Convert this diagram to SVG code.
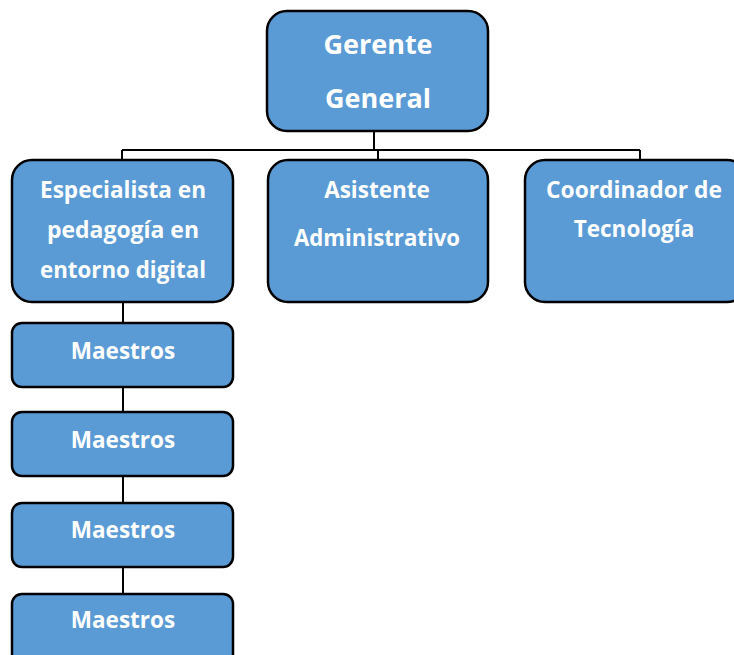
<svg xmlns="http://www.w3.org/2000/svg" width="734" height="655" viewBox="0 0 734 655">
<style>
.box{fill:#5b9bd5;stroke:#000;stroke-width:2.5}
.t{fill:#fff;font-family:"Open Sans","Liberation Sans",sans-serif;font-weight:bold;text-anchor:middle}
.m{font-size:22.5px}
.big{font-size:27px}
.c{fill:none;stroke:#000;stroke-width:2}
</style>
<rect width="734" height="655" fill="#fff"/>
<g id="connectors">
<path class="c" d="M374 131V150M122 150H640M122 150V160M378 150V160M640 150V160"/>
<path class="c" d="M123 302V323M123 387V412M123 476V503M123 567V594"/>
</g>
<g id="gerente">
<rect class="box" x="267" y="11" width="221" height="120" rx="20"/>
<text class="t big" x="378" y="54">Gerente</text>
<text class="t big" x="378" y="108">General</text>
</g>
<g id="especialista">
<rect class="box" x="12" y="160" width="221" height="142" rx="20"/>
<text class="t m" x="123" y="198" textLength="166" lengthAdjust="spacingAndGlyphs">Especialista en</text>
<text class="t m" x="123" y="238" textLength="152" lengthAdjust="spacingAndGlyphs">pedagogía en</text>
<text class="t m" x="123" y="278" textLength="166" lengthAdjust="spacingAndGlyphs">entorno digital</text>
</g>
<g id="asistente">
<rect class="box" x="268" y="160" width="220" height="142" rx="20"/>
<text class="t m" x="377" y="198">Asistente</text>
<text class="t m" x="377" y="246" textLength="166" lengthAdjust="spacingAndGlyphs">Administrativo</text>
</g>
<g id="coordinador">
<rect class="box" x="525" y="160" width="222" height="142" rx="20"/>
<text class="t m" x="634" y="198" textLength="176" lengthAdjust="spacingAndGlyphs">Coordinador de</text>
<text class="t m" x="634" y="237">Tecnología</text>
</g>
<g id="maestros1">
<rect class="box" x="12" y="323" width="221" height="64" rx="10"/>
<text class="t m" x="123" y="359">Maestros</text>
</g>
<g id="maestros2">
<rect class="box" x="12" y="412" width="221" height="64" rx="10"/>
<text class="t m" x="123" y="448">Maestros</text>
</g>
<g id="maestros3">
<rect class="box" x="12" y="503" width="221" height="64" rx="10"/>
<text class="t m" x="123" y="538">Maestros</text>
</g>
<g id="maestros4">
<rect class="box" x="12" y="594" width="221" height="70" rx="10"/>
<text class="t m" x="123" y="628">Maestros</text>
</g>
</svg>
